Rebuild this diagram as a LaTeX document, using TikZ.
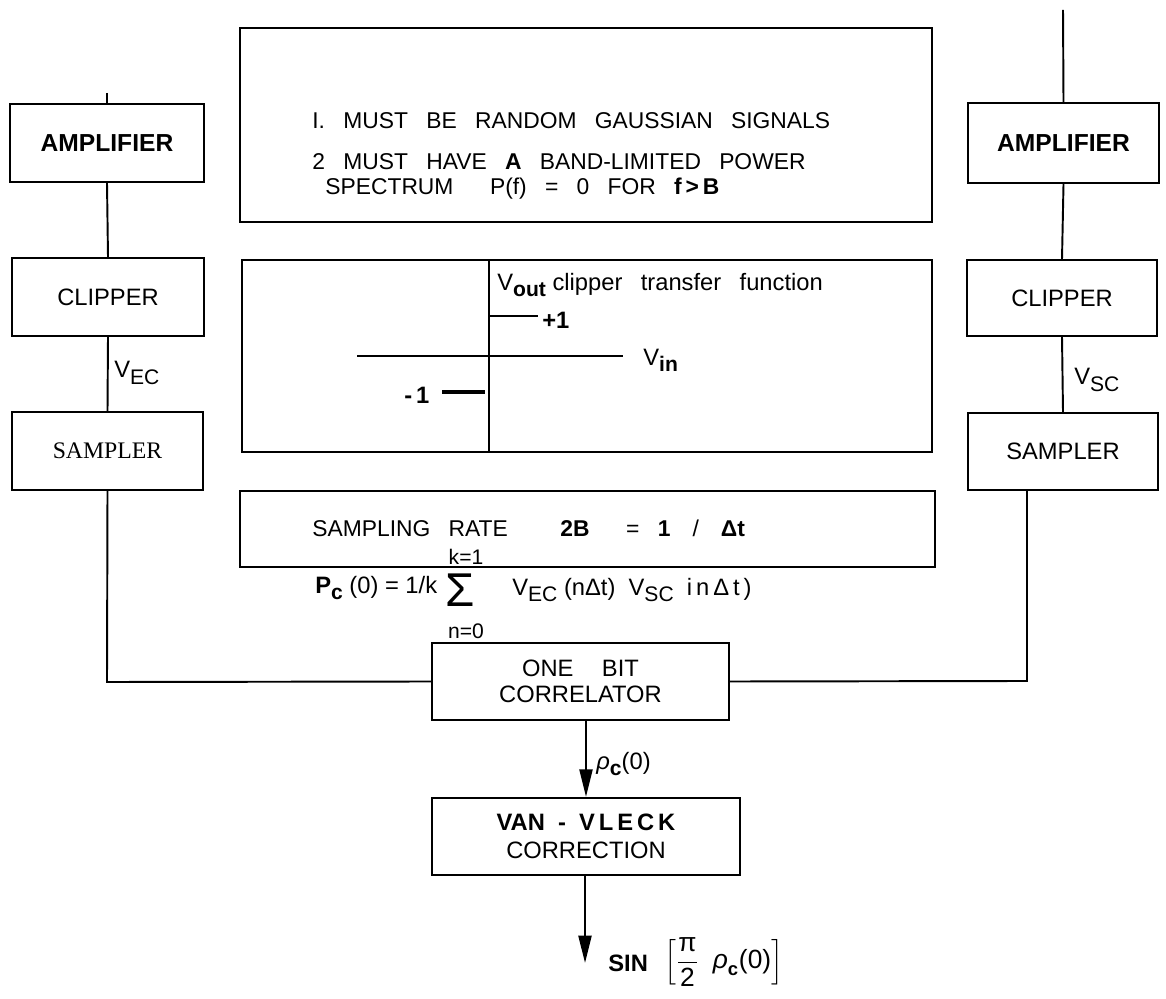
\documentclass[tikz,border=0pt]{standalone}
\usepackage{fontspec}
\usepackage{amsmath}
\setmainfont{Liberation Sans}
\newfontfamily\myserif{Liberation Serif}
\usetikzlibrary{arrows.meta}
\newcommand\myfs{\fontsize{13.5}{17}\selectfont}
\newcommand\mysm{\fontsize{13}{16}\selectfont\spaceskip=0.8em\relax}
\newcommand\mysub[1]{\raisebox{-0.5ex}{\fontsize{12}{12}\selectfont #1}}
\newcommand\mysubb[1]{\raisebox{-0.5ex}{\fontsize{12}{12}\selectfont\bfseries #1}}
\begin{document}
\begin{tikzpicture}[x=0.02cm,y=-0.02cm,
  box/.style={draw,line width=1.3pt,inner sep=0,align=center,font=\myfs},
  wire/.style={line width=1.1pt},
  lbl/.style={inner sep=0,anchor=west,font=\myfs},
  txt/.style={inner sep=0,anchor=west,font=\mysm},
  arr/.style={line width=1.3pt,-{Triangle[length=0.55cm,width=0.26cm]}}]
\useasboundingbox (0,0) rectangle (1166,999);
% left column
\node[box,minimum width=3.88cm,minimum height=1.56cm] (lamp) at (107,143) {\fontsize{14}{17}\selectfont\bfseries AMPLIFIER};
\node[box,minimum width=3.84cm,minimum height=1.56cm] (lclip) at (108,297) {CLIPPER};
\node[box,minimum width=3.82cm,minimum height=1.56cm] (lsamp) at (107.5,451) {\myserif SAMPLER};
% right column
\node[box,minimum width=3.82cm,minimum height=1.6cm] (ramp) at (1063.5,143) {\fontsize{14}{17}\selectfont\bfseries AMPLIFIER};
\node[box,minimum width=3.8cm,minimum height=1.52cm] (rclip) at (1062,298) {CLIPPER};
\node[box,minimum width=3.8cm,minimum height=1.54cm] (rsamp) at (1063,451.5) {SAMPLER};
% middle boxes
\node[box,minimum width=13.84cm,minimum height=3.88cm] (cond) at (586,125) {};
\node[box,minimum width=13.8cm,minimum height=3.84cm] (tf) at (587,356) {};
\node[box,minimum width=13.9cm,minimum height=1.52cm] (rate) at (587.5,529) {};
\node[box,minimum width=5.94cm,minimum height=1.54cm] (corr) at (580.5,681.5) {ONE\hspace{1.2em}BIT\\[-2pt] CORRELATOR};
\node[box,minimum width=6.16cm,minimum height=1.54cm] (vv) at (586,836.5) {\bfseries VAN\ \ -\ \ V\,L\,E\,C\,K\\[-1pt] CORRECTION};
% condition text
\node[txt] (c1) at (312,121) {I. MUST BE RANDOM GAUSSIAN SIGNALS};
\node[txt] (c2) at (312,162) {2 MUST HAVE \textbf{A} BAND-LIMITED POWER};
\node[txt] (c3) at (325,189) {SPECTRUM \ P(f) = 0 FOR \textbf{f}\,\textbf{>}\,\textbf{B}};
% transfer function
\draw[wire] (489,260) -- (489,452);
\draw[wire] (357,356) -- (623,356);
\draw[line width=0.8pt] (489,316) -- (538,316);
\draw[line width=2.6pt] (442,392) -- (485,392);
\node[lbl] (vout) at (497,285) {V\mysubb{out} clipper\hspace{0.5em} transfer\hspace{0.5em} function};
\node[lbl] (p1) at (542,320) {\bfseries +1};
\node[lbl] (m1) at (404,395) {\bfseries -\,1};
\node[lbl] (vin) at (643,360) {V\mysubb{in}};
% sampling rate
\node[txt] (sr) at (312,528) {SAMPLING RATE \hspace{1.5em}\textbf{2B} \ = \textbf{1} \,/\, \textbf{Δt}};
% formula
\node[lbl] (fa) at (315,588) {\textbf{P\mysub{c}} (0) = 1/k};
\node[inner sep=0,font=\fontsize{27}{27}\selectfont] (sig) at (460,590) {Σ};
\node[inner sep=0,font=\fontsize{12}{12}\selectfont] (sup) at (466,557) {k=1};
\node[inner sep=0,font=\fontsize{12}{12}\selectfont] (sb) at (466,631) {n=0};
\node[lbl] (fb) at (512,590) {V\mysub{EC} (nΔt)\ \ V\mysub{SC} \ i\,n\,Δ\,t\,)};
% left wires
\coordinate (ltop) at (107,93);
\coordinate (lcorner) at (107,682);
\draw[wire] (ltop) -- (lamp.north);
\draw[wire] (lamp.south) -- (lclip.north);
\draw[wire] (lclip.south) -- (lsamp.north);
\draw[wire] (lsamp.south) -- (lcorner) -- (corr.west);
\node[lbl] (vec) at (114,373) {V\mysub{EC}};
% right wires
\coordinate (rtop) at (1063,10);
\coordinate (rsb) at (1027,490);
\coordinate (rcorner) at (1027,681);
\draw[wire] (rtop) -- (ramp.north);
\draw[wire] (ramp.south) -- (rclip.north);
\draw[wire] (rclip.south) -- (rsamp.north);
\draw[wire] (rsb) -- (rcorner) -- (corr.east);
\node[lbl] (vsc) at (1074,380) {V\mysub{SC}};
% arrows
\draw[arr] (vv.north |- corr.south) -- (vv.north);
\node[lbl] (rho) at (596,764) {\itshape ρ\upshape\mysubb{c}(0)};
\coordinate (out) at (585,963);
\draw[arr] (vv.south -| out) -- (out);
\node[lbl] (sin) at (608,963) {\bfseries SIN};
\node[lbl,font=\fontsize{15}{18}\selectfont] (res) at (664,962) {$\left[\dfrac{\text{π}}{\text{2}}\;\;\text{\itshape ρ}_{\text{\bfseries c}}\text{(0)}\right]$};
\end{tikzpicture}
\end{document}
